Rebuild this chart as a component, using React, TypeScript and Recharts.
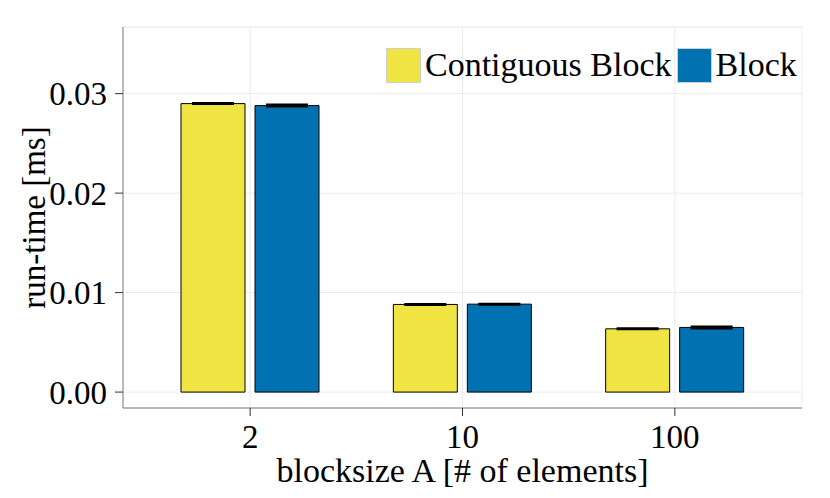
import React from 'react'
import {
  Bar,
  BarChart,
  CartesianGrid,
  ErrorBar,
  Legend,
  XAxis,
  YAxis,
} from 'recharts'

document.body.style.margin = '0'

const blockSizes = ['2', '10', '100']
const seriesNames = ['Contiguous Block', 'Block']
const contiguousMs = [0.029, 0.00881, 0.00636]
const contiguousErr = [0.00005, 0.00005, 0.00005]
const blockMs = [0.0288, 0.00884, 0.0065]
const blockErr = [0.0001, 0.00005, 0.0001]

const majorTicks = [0, 0.01, 0.02, 0.03]
const minorTicks = [0.005, 0.015, 0.025, 0.035]
const yDomain = [-0.0016, 0.0367]

const data = blockSizes.map((size, i) => ({
  size,
  contiguous: contiguousMs[i],
  contiguousErr: contiguousErr[i],
  block: blockMs[i],
  blockErr: blockErr[i],
}))

const FONT = '"Liberation Serif", "Times New Roman", serif'

function LegendBox({ payload }: any) {
  const items = [...(payload || [])].sort(
    (a: any, b: any) => seriesNames.indexOf(a.value) - seriesNames.indexOf(b.value),
  )
  return (
    <div style={{ display: 'flex', alignItems: 'center', fontFamily: FONT, fontSize: 34, color: '#000' }}>
      {items.map((p: any) => (
        <div key={p.value} style={{ display: 'flex', alignItems: 'center', marginRight: 5 }}>
          <span
            style={{
              display: 'inline-block',
              width: 33,
              height: 33,
              background: p.color,
              border: '1px solid #cfcfcf',
              marginRight: 4,
            }}
          />
          <span style={{ whiteSpace: 'nowrap', lineHeight: 1.12 }}>{p.value}</span>
        </div>
      ))}
    </div>
  )
}

function YLabel({ viewBox }: any) {
  const cy = viewBox.y + viewBox.height / 2
  return (
    <text
      x={45}
      y={cy}
      transform={`rotate(-90, 45, ${cy})`}
      textAnchor="middle"
      fontFamily={FONT}
      fontSize={33}
      fill="#000"
    >
      run-time [ms]
    </text>
  )
}

export default function App() {
  return (
    <BarChart
      width={830}
      height={498}
      data={data}
      margin={{ top: 27, right: 28, left: 0, bottom: 0 }}
      barSize={64}
      barGap={10}
    >
      <CartesianGrid yAxisId="minor" vertical={false} stroke="#f6f6f6" strokeWidth={1} />
      <CartesianGrid stroke="#ebebeb" strokeWidth={1} />
      <XAxis
        dataKey="size"
        padding={{ left: 21, right: 21 }}
        height={90}
        tickSize={8}
        tickMargin={9}
        axisLine={{ stroke: '#7f7f7f' }}
        tickLine={{ stroke: '#333' }}
        tick={{ fontFamily: FONT, fontSize: 33, fill: '#000' }}
        label={{
          value: 'blocksize A [# of elements]',
          position: 'insideBottom',
          offset: 16,
          fontFamily: FONT,
          fontSize: 34,
          fill: '#000',
        }}
      />
      <XAxis
        xAxisId="top"
        orientation="top"
        dataKey="size"
        height={0}
        tick={false}
        tickLine={false}
        axisLine={{ stroke: '#7f7f7f' }}
      />
      <YAxis
        domain={yDomain}
        ticks={majorTicks}
        width={123}
        tickSize={8}
        tickMargin={8}
        axisLine={{ stroke: '#7f7f7f' }}
        tickLine={{ stroke: '#333' }}
        tick={{ fontFamily: FONT, fontSize: 33, fill: '#000' }}
        tickFormatter={(v: number) => v.toFixed(2)}
        allowDataOverflow
        label={<YLabel />}
      />
      <YAxis
        yAxisId="minor"
        domain={yDomain}
        ticks={minorTicks}
        width={0}
        tick={false}
        tickLine={false}
        axisLine={false}
        allowDataOverflow
      />
      <YAxis
        yAxisId="right"
        orientation="right"
        domain={yDomain}
        width={0}
        tick={false}
        tickLine={false}
        axisLine={{ stroke: '#7f7f7f' }}
        allowDataOverflow
      />
      <Legend
        verticalAlign="middle"
        align="center"
        layout="horizontal"
        wrapperStyle={{ top: 46, left: 386, width: 'auto', height: 'auto' }}
        content={<LegendBox />}
      />
      <Bar dataKey="contiguous" name={seriesNames[0]} fill="#F0E442" stroke="#000" strokeWidth={1} isAnimationActive={false}>
        <ErrorBar dataKey="contiguousErr" width={21} stroke="#000" strokeWidth={2} direction="y" />
      </Bar>
      <Bar dataKey="block" name={seriesNames[1]} fill="#0072B2" stroke="#000" strokeWidth={1} isAnimationActive={false}>
        <ErrorBar dataKey="blockErr" width={21} stroke="#000" strokeWidth={2} direction="y" />
      </Bar>
    </BarChart>
  )
}
